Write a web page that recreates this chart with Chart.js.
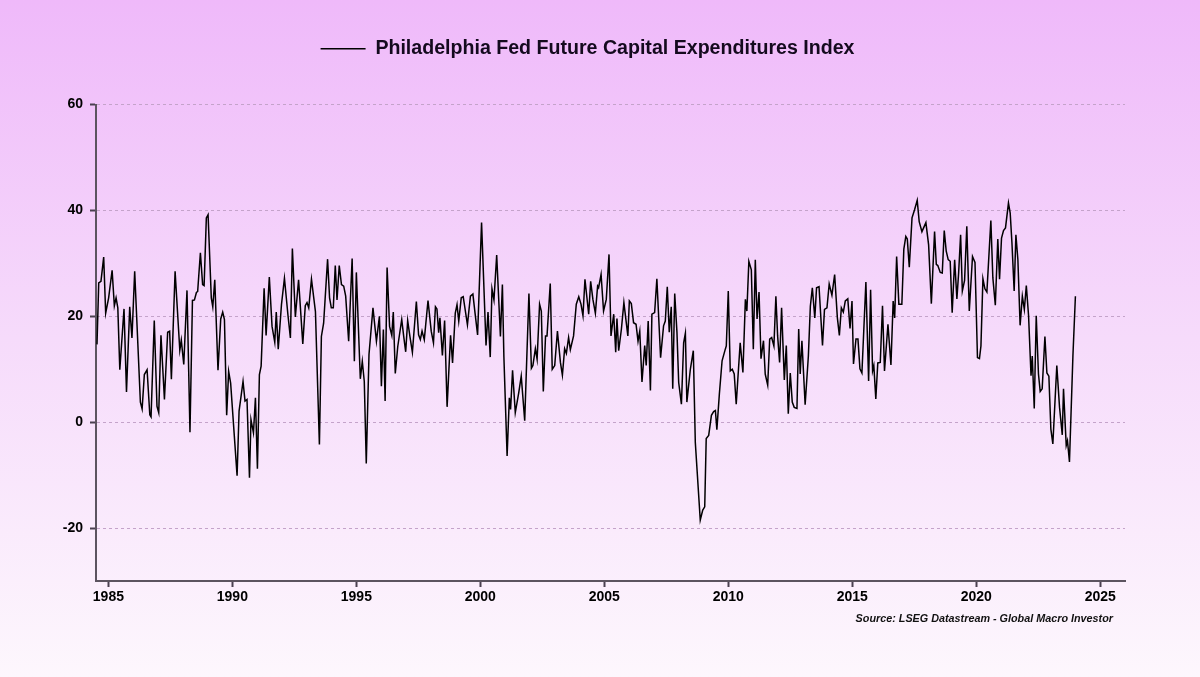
<!DOCTYPE html>
<html>
<head>
<meta charset="utf-8">
<title>Philadelphia Fed Future Capital Expenditures Index</title>
<script src="https://cdn.jsdelivr.net/npm/chart.js@4.4.1/dist/chart.umd.min.js"></script>
<style>
  html, body { margin: 0; padding: 0; }
  body {
    width: 1200px; height: 677px; overflow: hidden;
    background: linear-gradient(to bottom, #efb9fa 0%, #f6dbfb 50%, #fdf7fd 100%);
  }
  #wrap { width: 1200px; height: 677px; }
</style>
</head>
<body>
<div id="wrap"><canvas id="chart" width="1200" height="677"></canvas></div>
<script>
const seriesName = "Philadelphia Fed Future Capital Expenditures Index";
const sourceNote = "Source: LSEG Datastream - Global Macro Investor";

// dates as decimal years
const years = [
  1984.54, 1984.61, 1984.70, 1984.81, 1984.89, 1985.01, 1985.15, 1985.24, 1985.31, 1985.38,
  1985.46, 1985.63, 1985.73, 1985.86, 1985.95, 1986.06, 1986.29, 1986.36, 1986.45, 1986.56,
  1986.67, 1986.72, 1986.85, 1986.96, 1987.03, 1987.12, 1987.26, 1987.39, 1987.47, 1987.54,
  1987.69, 1987.88, 1987.94, 1988.04, 1988.17, 1988.29, 1988.39, 1988.47, 1988.55, 1988.60,
  1988.71, 1988.80, 1988.86, 1988.95, 1989.02, 1989.15, 1989.21, 1989.29, 1989.42, 1989.53,
  1989.61, 1989.68, 1989.77, 1989.85, 1989.93, 1990.19, 1990.27, 1990.43, 1990.51, 1990.59,
  1990.69, 1990.75, 1990.85, 1990.93, 1991.01, 1991.09, 1991.16, 1991.28, 1991.36, 1991.49,
  1991.60, 1991.71, 1991.77, 1991.85, 1991.98, 1992.10, 1992.24, 1992.34, 1992.42, 1992.54,
  1992.67, 1992.84, 1992.94, 1993.01, 1993.08, 1993.19, 1993.35, 1993.51, 1993.59, 1993.68,
  1993.84, 1993.92, 1993.99, 1994.07, 1994.15, 1994.22, 1994.31, 1994.40, 1994.49, 1994.57,
  1994.69, 1994.83, 1994.92, 1995.00, 1995.16, 1995.24, 1995.32, 1995.40, 1995.51, 1995.67,
  1995.81, 1995.93, 1996.01, 1996.09, 1996.16, 1996.24, 1996.34, 1996.43, 1996.49, 1996.57,
  1996.67, 1996.83, 1996.91, 1996.99, 1997.07, 1997.16, 1997.26, 1997.42, 1997.51, 1997.58,
  1997.65, 1997.74, 1997.89, 1998.02, 1998.11, 1998.19, 1998.25, 1998.32, 1998.37, 1998.47,
  1998.56, 1998.66, 1998.80, 1998.88, 1998.99, 1999.06, 1999.13, 1999.23, 1999.31, 1999.48,
  1999.60, 1999.70, 1999.78, 1999.89, 2000.05, 2000.23, 2000.31, 2000.40, 2000.47, 2000.55,
  2000.66, 2000.81, 2000.89, 2000.95, 2001.08, 2001.17, 2001.22, 2001.30, 2001.41, 2001.55,
  2001.65, 2001.79, 2001.96, 2002.06, 2002.12, 2002.22, 2002.29, 2002.39, 2002.46, 2002.54,
  2002.63, 2002.69, 2002.82, 2002.90, 2003.00, 2003.11, 2003.23, 2003.31, 2003.40, 2003.47,
  2003.56, 2003.63, 2003.76, 2003.87, 2003.97, 2004.06, 2004.14, 2004.22, 2004.37, 2004.45,
  2004.54, 2004.64, 2004.73, 2004.77, 2004.87, 2004.97, 2005.08, 2005.19, 2005.27, 2005.38,
  2005.46, 2005.51, 2005.58, 2005.69, 2005.79, 2005.95, 2006.01, 2006.09, 2006.18, 2006.28,
  2006.36, 2006.43, 2006.52, 2006.63, 2006.69, 2006.77, 2006.86, 2006.92, 2007.03, 2007.12,
  2007.27, 2007.39, 2007.46, 2007.54, 2007.62, 2007.70, 2007.76, 2007.84, 2007.93, 2008.00,
  2008.11, 2008.20, 2008.27, 2008.33, 2008.47, 2008.59, 2008.67, 2008.87, 2008.97, 2009.05,
  2009.11, 2009.21, 2009.32, 2009.41, 2009.48, 2009.54, 2009.64, 2009.75, 2009.88, 2009.92,
  2010.00, 2010.08, 2010.16, 2010.24, 2010.32, 2010.48, 2010.59, 2010.69, 2010.75, 2010.83,
  2010.93, 2011.01, 2011.09, 2011.16, 2011.24, 2011.32, 2011.42, 2011.49, 2011.59, 2011.67,
  2011.75, 2011.84, 2011.92, 2011.99, 2012.07, 2012.15, 2012.26, 2012.34, 2012.42, 2012.50,
  2012.58, 2012.66, 2012.77, 2012.84, 2012.90, 2012.97, 2013.10, 2013.23, 2013.31, 2013.39,
  2013.49, 2013.56, 2013.66, 2013.80, 2013.88, 2013.98, 2014.07, 2014.18, 2014.29, 2014.40,
  2014.48, 2014.56, 2014.64, 2014.72, 2014.82, 2014.91, 2014.99, 2015.05, 2015.15, 2015.23,
  2015.31, 2015.39, 2015.55, 2015.66, 2015.74, 2015.82, 2015.87, 2015.95, 2016.03, 2016.13,
  2016.22, 2016.30, 2016.44, 2016.56, 2016.65, 2016.71, 2016.79, 2016.88, 2017.00, 2017.08,
  2017.16, 2017.22, 2017.30, 2017.41, 2017.51, 2017.62, 2017.70, 2017.81, 2017.97, 2018.08,
  2018.19, 2018.32, 2018.39, 2018.45, 2018.55, 2018.63, 2018.71, 2018.79, 2018.87, 2018.95,
  2019.03, 2019.13, 2019.22, 2019.29, 2019.37, 2019.44, 2019.53, 2019.62, 2019.72, 2019.85,
  2019.95, 2020.05, 2020.13, 2020.19, 2020.27, 2020.35, 2020.43, 2020.59, 2020.67, 2020.77,
  2020.87, 2020.94, 2021.02, 2021.10, 2021.18, 2021.30, 2021.37, 2021.44, 2021.53, 2021.60,
  2021.68, 2021.77, 2021.86, 2021.94, 2022.02, 2022.11, 2022.21, 2022.26, 2022.34, 2022.42,
  2022.51, 2022.58, 2022.66, 2022.77, 2022.85, 2022.93, 2023.01, 2023.09, 2023.25, 2023.36,
  2023.47, 2023.52, 2023.63, 2023.68, 2023.76, 2023.90, 2024.00
];

const values = [
  14.7, 26.3, 26.6, 31.2, 20.6, 23.5, 28.7, 22.0, 23.5, 21.6,
  9.9, 21.4, 5.7, 21.8, 15.9, 28.5, 3.8, 2.5, 9.0, 9.9,
  1.4, 1.0, 19.2, 3.0, 1.8, 16.4, 4.3, 17.0, 17.2, 8.1,
  28.5, 13.6, 15.5, 10.9, 24.9, -1.9, 23.0, 23.1, 24.5, 24.7,
  32.0, 26.0, 25.8, 38.6, 39.2, 23.5, 21.8, 26.9, 9.8, 19.5,
  20.8, 19.4, 1.3, 9.6, 7.4, -10.1, 2.1, 7.7, 4.0, 4.3,
  -10.5, 0.5, -2.0, 4.6, -8.8, 9.0, 10.6, 25.3, 16.4, 27.4,
  18.1, 15.1, 20.8, 13.8, 22.2, 27.2, 20.3, 15.9, 32.8, 19.9,
  26.9, 14.8, 22.0, 22.6, 21.6, 27.0, 20.9, -4.2, 16.2, 18.7,
  30.8, 23.5, 21.6, 21.6, 29.6, 23.1, 29.6, 26.0, 25.7, 23.8,
  15.3, 30.9, 11.5, 28.3, 8.2, 11.5, 7.7, -7.8, 12.8, 21.6,
  15.3, 20.0, 6.8, 17.5, 4.0, 29.2, 18.1, 16.4, 20.8, 9.2,
  14.3, 19.4, 16.2, 13.3, 19.2, 16.2, 13.2, 22.8, 16.5, 15.6,
  17.2, 15.6, 23.0, 17.2, 15.0, 21.8, 21.4, 16.9, 19.7, 12.6,
  19.2, 2.9, 16.4, 11.2, 20.6, 22.2, 19.1, 23.5, 23.7, 18.4,
  23.8, 24.2, 20.9, 16.5, 37.7, 14.5, 20.8, 12.3, 25.2, 23.1,
  31.6, 16.2, 26.0, 12.4, -6.4, 4.6, 2.4, 9.8, 1.8, 5.6,
  8.7, 0.3, 24.3, 10.2, 10.7, 13.9, 11.9, 22.3, 21.0, 5.8,
  16.3, 16.3, 26.2, 10.0, 10.7, 17.2, 11.3, 8.9, 13.9, 13.0,
  16.0, 13.7, 16.3, 22.3, 23.7, 22.3, 20.1, 27.0, 20.4, 26.6,
  23.2, 20.6, 25.7, 25.4, 27.9, 21.0, 23.2, 31.7, 16.3, 20.4,
  13.2, 19.6, 13.5, 17.6, 22.6, 16.3, 22.9, 22.4, 18.8, 18.5,
  15.3, 17.2, 7.6, 14.5, 10.7, 19.1, 6.0, 20.4, 20.7, 27.1,
  12.2, 18.2, 19.1, 25.6, 17.0, 21.8, 6.3, 24.3, 17.0, 7.5,
  3.4, 15.0, 16.8, 3.8, 10.0, 13.5, -3.8, -18.5, -16.6, -16.0,
  -3.1, -2.5, 1.3, 2.0, 2.2, -1.4, 5.3, 11.6, 13.8, 14.4,
  24.8, 9.7, 10.0, 9.1, 3.4, 15.0, 9.4, 23.2, 21.0, 30.4,
  28.8, 13.8, 30.7, 19.5, 24.6, 12.0, 15.4, 9.1, 7.0, 15.7,
  16.0, 14.4, 23.8, 16.3, 11.3, 21.6, 8.0, 14.5, 1.6, 9.3,
  3.8, 2.8, 2.6, 17.6, 9.1, 15.4, 3.3, 12.5, 21.9, 25.4,
  19.7, 25.4, 25.6, 14.5, 21.3, 21.6, 26.1, 24.0, 27.9, 19.7,
  16.4, 21.6, 20.8, 22.9, 23.3, 17.7, 22.9, 11.0, 15.7, 15.7,
  10.1, 9.3, 26.5, 7.8, 25.0, 9.7, 10.7, 4.4, 11.2, 11.3,
  22.0, 9.7, 18.5, 10.8, 22.9, 19.7, 31.3, 22.3, 22.3, 32.7,
  35.1, 34.6, 29.3, 38.6, 40.1, 41.9, 37.9, 36.0, 37.7, 33.5,
  22.4, 36.0, 29.8, 29.6, 28.3, 28.2, 36.2, 32.3, 30.7, 30.4,
  20.7, 30.7, 23.3, 28.2, 35.4, 24.8, 26.8, 37.0, 21.0, 31.3,
  30.2, 12.2, 12.0, 14.4, 27.1, 25.2, 24.6, 38.1, 27.3, 22.1,
  34.6, 27.0, 34.8, 36.2, 36.7, 41.4, 39.5, 33.9, 24.8, 35.4,
  30.7, 18.3, 23.8, 21.3, 25.8, 20.2, 8.8, 12.5, 2.6, 20.1,
  9.1, 5.8, 6.3, 16.2, 9.3, 8.7, -1.3, -4.1, 10.7, 2.8,
  -2.4, 6.3, -4.4, -3.5, -7.5, 12.6, 23.8
];

const xTicks = [1985, 1990, 1995, 2000, 2005, 2010, 2015, 2020, 2025];
const yTicks = [-20, 0, 20, 40, 60];

const points = years.map((x, i) => ({ x: x, y: values[i] }));

const tickFont = { family: "'Liberation Sans', Arial, sans-serif", size: 14, weight: "bold" };

// push the plot down below the legend
const legendGap = {
  id: "legendGap",
  beforeInit(chart) {
    const fit = chart.legend.fit;
    chart.legend.fit = function () {
      fit.call(this);
      this.height += 36;
    };
  }
};

const sourceText = {
  id: "sourceText",
  afterDraw(chart) {
    const ctx = chart.ctx;
    ctx.save();
    ctx.font = "italic bold 10.8px 'Liberation Sans', Arial, sans-serif";
    ctx.fillStyle = "#111";
    ctx.textAlign = "right";
    ctx.textBaseline = "middle";
    ctx.fillText(sourceNote, chart.chartArea.right - 12, 619);
    ctx.restore();
  }
};

new Chart(document.getElementById("chart"), {
  type: "line",
  data: {
    datasets: [{
      label: seriesName,
      data: points,
      borderColor: "#000",
      backgroundColor: "#000",
      borderWidth: 1.5,
      pointRadius: 0,
      tension: 0,
      fill: false
    }]
  },
  options: {
    responsive: false,
    animation: false,
    layout: { padding: { left: 50, right: 75, top: 29, bottom: 66 } },
    plugins: {
      legend: {
        position: "top",
        labels: {
          usePointStyle: true,
          pointStyle: "line",
          pointStyleWidth: 45,
          color: "#140a1e",
          padding: 10,
          font: { family: "'Liberation Sans', Arial, sans-serif", size: 19.6, weight: "bold" }
        }
      },
      tooltip: { enabled: false }
    },
    scales: {
      x: {
        type: "linear",
        min: 1984.5,
        max: 2026,
        afterBuildTicks: s => { s.ticks = xTicks.map(v => ({ value: v })); },
        afterFit: s => { s.height = 30; },
        grid: { drawOnChartArea: false, drawTicks: true, tickLength: 6, tickColor: "#4a4050", tickWidth: 2 },
        border: { display: true, color: "#5c5460", width: 2 },
        ticks: { color: "#000", font: tickFont, padding: 2, maxRotation: 0, autoSkip: false, callback: v => String(v) }
      },
      y: {
        min: -30,
        max: 60,
        afterBuildTicks: s => { s.ticks = yTicks.map(v => ({ value: v })); },
        afterFit: s => { s.width = 46; },
        grid: { color: "#c4a3ca", lineWidth: 1, tickLength: 6, tickColor: "#4a4050", tickWidth: 2, tickBorderDash: [] },
        border: { display: true, color: "#5c5460", width: 2, dash: [3, 3] },
        ticks: { color: "#000", font: tickFont, padding: 7, callback: v => String(v) }
      }
    }
  },
  plugins: [legendGap, sourceText]
});
</script>
</body>
</html>
